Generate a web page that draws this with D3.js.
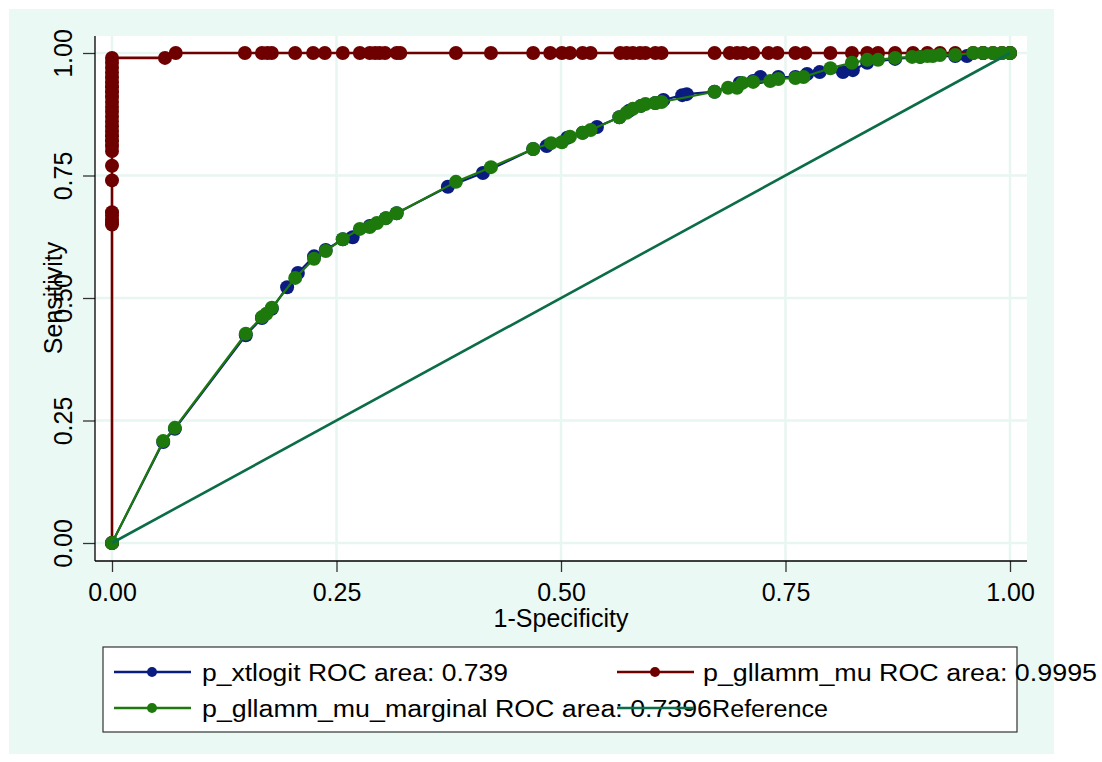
<!DOCTYPE html>
<html><head><meta charset="utf-8">
<script src="https://cdn.jsdelivr.net/npm/d3@7"></script>
<style>body{margin:0;background:#fff}svg{display:block}text{font-family:"Liberation Sans",Arial,sans-serif;fill:#000}</style>
</head><body>
<svg id="chart" width="1102" height="762"></svg>
<script>
// ---- data ----
const xTicks = [0, 0.25, 0.5, 0.75, 1];
const yTicks = [0, 0.25, 0.5, 0.75, 1];
const xTitle = "1-Specificity";
const yTitle = "Sensitivity";
const seriesNames = ["p_xtlogit ROC area: 0.739", "p_gllamm_mu ROC area: 0.9995", "p_gllamm_mu_marginal ROC area: 0.7396", "Reference"];

const xtlogitX = [0,0.057,0.070,0.149,0.167,0.178,0.195,0.207,0.225,0.238,0.257,0.268,0.287,0.305,0.317,0.374,0.413,0.469,0.484,0.507,0.524,0.540,0.565,0.576,0.589,0.605,0.614,0.635,0.640,0.671,0.699,0.714,0.722,0.742,0.761,0.774,0.788,0.814,0.825,0.841,0.872,0.900,0.939,0.952,0.970,1];
const xtlogitY = [0,0.206,0.233,0.424,0.459,0.478,0.522,0.551,0.585,0.598,0.620,0.624,0.647,0.663,0.673,0.727,0.755,0.804,0.810,0.827,0.837,0.849,0.869,0.882,0.892,0.898,0.904,0.914,0.916,0.921,0.939,0.943,0.951,0.951,0.951,0.957,0.961,0.961,0.965,0.980,0.988,0.992,0.994,0.994,1,1];

const muX = [0,0,0,0,0,0,0,0,0,0,0,0,0,0,0,0,0,0,0,0,0,0,0,0,0,0,0,0,0.059,0.071,0.148,0.167,0.173,0.178,0.204,0.224,0.237,0.257,0.276,0.287,0.293,0.298,0.304,0.317,0.321,0.383,0.422,0.469,0.488,0.501,0.510,0.524,0.533,0.566,0.573,0.580,0.588,0.594,0.605,0.612,0.671,0.688,0.696,0.703,0.714,0.731,0.741,0.761,0.772,0.800,0.824,0.841,0.853,0.872,0.892,0.908,0.922,0.939,0.959,0.970,0.981,0.991,1];
const muY = [0,0.650,0.655,0.660,0.668,0.675,0.740,0.770,0.800,0.810,0.820,0.830,0.840,0.850,0.860,0.870,0.880,0.890,0.900,0.910,0.920,0.930,0.940,0.950,0.960,0.970,0.980,0.990,0.990,1,1,1,1,1,1,1,1,1,1,1,1,1,1,1,1,1,1,1,1,1,1,1,1,1,1,1,1,1,1,1,1,1,1,1,1,1,1,1,1,1,1,1,1,1,1,1,1,1,1,1,1,1,1];

const margX = [0,0.057,0.070,0.149,0.167,0.172,0.178,0.204,0.225,0.238,0.257,0.276,0.287,0.295,0.305,0.317,0.383,0.422,0.469,0.489,0.501,0.510,0.524,0.533,0.565,0.573,0.580,0.589,0.594,0.605,0.612,0.671,0.686,0.696,0.702,0.714,0.733,0.742,0.761,0.770,0.800,0.824,0.841,0.853,0.872,0.891,0.900,0.908,0.914,0.922,0.939,0.959,0.970,0.981,0.991,1];
const margY = [0,0.208,0.235,0.427,0.461,0.468,0.480,0.541,0.580,0.596,0.620,0.641,0.645,0.653,0.663,0.673,0.737,0.767,0.804,0.816,0.818,0.829,0.837,0.843,0.869,0.878,0.886,0.892,0.896,0.898,0.900,0.921,0.929,0.929,0.939,0.941,0.943,0.947,0.949,0.951,0.969,0.980,0.986,0.986,0.990,0.992,0.992,0.994,0.994,0.996,0.996,1,1,1,1,1];

const refX = [0, 1];
const refY = [0, 1];

const colors = ["#0b1c80", "#6e0000", "#1d790c", "#0b6d48"];

// ---- drawing ----
const svg = d3.select("#chart");
const x = d3.scaleLinear().domain([0, 1]).range([112, 1010]);
const y = d3.scaleLinear().domain([0, 1]).range([543, 53]);
const plot = {l: 95, r: 1027, t: 36, b: 561};

svg.append("rect").attr("x", 9).attr("y", 9).attr("width", 1045).attr("height", 745).attr("fill", "#eaf9f4");
svg.append("rect").attr("x", plot.l).attr("y", plot.t).attr("width", plot.r - plot.l).attr("height", plot.b - plot.t).attr("fill", "#fff");

// grid
svg.append("g").selectAll("line.gx").data(xTicks).join("line")
  .attr("x1", d => x(d)).attr("x2", d => x(d)).attr("y1", plot.t).attr("y2", plot.b)
  .attr("stroke", "#e7f6f1").attr("stroke-width", 2.5);
svg.append("g").selectAll("line.gy").data(yTicks).join("line")
  .attr("y1", d => y(d)).attr("y2", d => y(d)).attr("x1", plot.l).attr("x2", plot.r)
  .attr("stroke", "#e7f6f1").attr("stroke-width", 2.5);

// axes
const fmt = d3.format(".2f");
const gx = svg.append("g").attr("transform", `translate(0,${plot.b})`)
  .call(d3.axisBottom(x).tickValues(xTicks).tickFormat(fmt).tickSize(11).tickSizeOuter(0));
gx.select(".domain").remove();
gx.selectAll(".tick line").attr("stroke", "#333").attr("stroke-width", 1.3);
gx.selectAll(".tick text").attr("font-size", 25).attr("font-family", "Liberation Sans, Arial, sans-serif")
  .attr("y", 40).attr("dy", 0).attr("fill", "#000");

const gy = svg.append("g").attr("transform", `translate(${plot.l},0)`)
  .call(d3.axisLeft(y).tickValues(yTicks).tickFormat(fmt).tickSize(12).tickSizeOuter(0));
gy.select(".domain").remove();
gy.selectAll(".tick line").attr("stroke", "#333").attr("stroke-width", 1.3);
gy.selectAll(".tick text").attr("font-size", 25).attr("font-family", "Liberation Sans, Arial, sans-serif")
  .attr("x", 0).attr("dy", 0).attr("text-anchor", "middle")
  .attr("transform", "translate(-23,0) rotate(-90)").attr("fill", "#000");

svg.append("line").attr("x1", plot.l).attr("x2", plot.l).attr("y1", plot.t).attr("y2", plot.b).attr("stroke", "#000").attr("stroke-width", 1.3);
svg.append("line").attr("x1", plot.l).attr("x2", plot.r).attr("y1", plot.b).attr("y2", plot.b).attr("stroke", "#000").attr("stroke-width", 1.3);

svg.append("text").attr("x", 561).attr("y", 627).attr("text-anchor", "middle").attr("font-size", 25).text(xTitle);
svg.append("text").attr("transform", "translate(62,298) rotate(-90)").attr("text-anchor", "middle").attr("font-size", 25).text(yTitle);

// series
function series(xs, ys, color, lw, markers) {
  const pts = xs.map((v, i) => [v, ys[i]]);
  svg.append("path").datum(pts)
    .attr("d", d3.line().x(d => x(d[0])).y(d => y(d[1])))
    .attr("fill", "none").attr("stroke", color).attr("stroke-width", lw).attr("stroke-linejoin", "round");
  if (markers) {
    svg.append("g").selectAll("circle").data(pts).join("circle")
      .attr("cx", d => x(d[0])).attr("cy", d => y(d[1])).attr("r", 7).attr("fill", color);
  }
}
series(xtlogitX, xtlogitY, colors[0], 2.2, true);
series(muX, muY, colors[1], 2.6, true);
series(margX, margY, colors[2], 2.2, true);
series(refX, refY, colors[3], 2.6, false);

// legend
svg.append("rect").attr("x", 103).attr("y", 647).attr("width", 914).attr("height", 85)
  .attr("fill", "#fff").attr("stroke", "#333").attr("stroke-width", 1.2);
const legendItems = [
  {name: seriesNames[0], c: colors[0], lx: 114, tx: 202, ty: 672, w: 306, m: true},
  {name: seriesNames[1], c: colors[1], lx: 617, tx: 703, ty: 672, w: 394, m: true},
  {name: seriesNames[2], c: colors[2], lx: 114, tx: 202, ty: 708, w: 510, m: true},
  {name: seriesNames[3], c: colors[3], lx: 617, tx: 712, ty: 708, w: 116, m: false}
];
legendItems.forEach(it => {
  svg.append("line").attr("x1", it.lx).attr("x2", it.lx + 77).attr("y1", it.ty).attr("y2", it.ty)
    .attr("stroke", it.c).attr("stroke-width", 2.6);
  if (it.m) svg.append("circle").attr("cx", it.lx + 38).attr("cy", it.ty).attr("r", 5).attr("fill", it.c);
  svg.append("text").attr("x", it.tx).attr("y", it.ty + 8.5).attr("font-size", 23)
    .attr("textLength", it.w).attr("lengthAdjust", "spacingAndGlyphs").text(it.name);
});
</script>
</body></html>
